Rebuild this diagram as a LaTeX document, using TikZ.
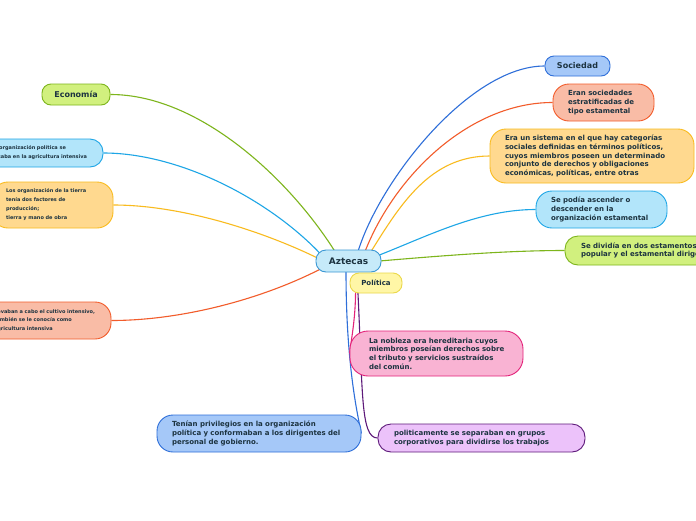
\documentclass[tikz,border=0pt]{standalone}
\usepackage{fontspec}
\setmainfont{DejaVu Sans}
\usetikzlibrary{calc}
\definecolor{txt}{HTML}{1C3340}
\definecolor{azF}{HTML}{C6EAF9}\definecolor{azD}{HTML}{3A97D4}
\definecolor{yeF}{HTML}{FFF6A6}\definecolor{yeD}{HTML}{EBD84A}
\definecolor{blF}{HTML}{A5C8F8}\definecolor{blD}{HTML}{2F6FD9}
\definecolor{rdF}{HTML}{F9BCA6}\definecolor{rdD}{HTML}{F25C2B}
\definecolor{orF}{HTML}{FFD98F}\definecolor{orD}{HTML}{F9BB1F}
\definecolor{cyF}{HTML}{B2E5FA}\definecolor{cyD}{HTML}{1EA6E6}
\definecolor{grF}{HTML}{D1F07E}\definecolor{grD}{HTML}{7DB51C}
\definecolor{pkF}{HTML}{F9B3D3}\definecolor{pkD}{HTML}{E3237A}
\definecolor{puF}{HTML}{ECC2FA}\definecolor{puD}{HTML}{5E1A7A}
\pgfdeclarelayer{bg}\pgfdeclarelayer{links}\pgfsetlayers{bg,links,main}
\tikzset{
  box/.style={draw, line width=0.9pt, text=txt, align=left, inner ysep=0pt,
    font=\fontsize{7}{8.7}\selectfont\bfseries},
  small/.style={font=\fontsize{5}{9}\selectfont\bfseries},
  link/.style={line width=1.1pt},
}
\begin{document}
\begin{tikzpicture}[x=1pt,y=-1pt]
\begin{pgfonlayer}{bg}
\fill[white] (0,0) rectangle (696,520);
\end{pgfonlayer}
\useasboundingbox (0,0) rectangle (696,520);

% central
\node[box, fill=azF, draw=azD, minimum width=65pt, minimum height=22pt, rounded corners=10pt, align=center,
  font=\fontsize{9}{10}\selectfont\bfseries] (az) at (348.5,261) {Aztecas};
\node[box, fill=yeF, draw=yeD, minimum width=52pt, minimum height=20pt, rounded corners=9pt, align=center] (pol) at (376,283) {Política};

% right side
\node[box, fill=blF, draw=blD, minimum width=65pt, minimum height=20pt, rounded corners=9pt, align=center,
  font=\fontsize{8}{9}\selectfont\bfseries] (so) at (577.5,66) {Sociedad};
\node[box, fill=rdF, draw=rdD, inner xsep=15pt, text width=71pt, minimum height=37pt, rounded corners=16pt] (er) at (603.5,102.5)
  {\mbox{Eran sociedades}\\\mbox{estratificadas de}\\\mbox{tipo estamental}};
\node[box, fill=orF, draw=orD, inner xsep=15pt, text width=174pt, minimum height=54pt, rounded corners=16pt] (si) at (592,156)
  {\mbox{Era un sistema en el que hay categorías}\\\mbox{sociales definidas en términos políticos,}\\\mbox{cuyos miembros poseen un determinado}\\\mbox{conjunto de derechos y obligaciones}\\\mbox{económicas, políticas, entre otras}};
\node[box, fill=cyF, draw=cyD, inner xsep=15pt, text width=101pt, minimum height=37pt, rounded corners=16pt] (po) at (601.5,209.5)
  {\mbox{Se podía ascender o}\\\mbox{descender en la}\\\mbox{organización estamental}};
\node[box, fill=grF, draw=grD, inner xsep=16pt, text width=168pt, minimum height=29pt, rounded corners=13pt] (di) at (665,250.5)
  {\mbox{Se dividía en dos estamentos, el}\\\mbox{popular y el estamental dirigente}};

% left side
\node[box, fill=grF, draw=grD, minimum width=68pt, minimum height=21pt, rounded corners=9pt, align=center,
  font=\fontsize{8}{9}\selectfont\bfseries] (ec) at (76,94.5) {Economía};
\node[box, small, fill=cyF, draw=cyD, inner xsep=13pt, text width=99pt, minimum height=28pt, rounded corners=13pt] (lo1) at (40.5,153)
  {\mbox{La organización política se}\\\mbox{basaba en la agricultura intensiva}};
\node[box, small, fill=orF, draw=orD, inner xsep=14pt, text width=93pt, minimum height=46pt, rounded corners=16pt] (lo2) at (52.5,205)
  {\mbox{Los organización de la tierra}\\\mbox{tenía dos factores de}\\\mbox{producción;}\\\mbox{tierra y mano de obra}};
\node[box, small, fill=rdF, draw=rdD, inner xsep=12pt, text width=105pt, minimum height=37pt, rounded corners=16pt,
  font=\fontsize{5}{8.5}\selectfont\bfseries] (ll) at (46.5,320.5)
  {\mbox{llevaban a cabo el cultivo intensivo,}\\\mbox{también se le conocía como}\\\mbox{agricultura intensiva}};

% bottom
\node[box, fill=pkF, draw=pkD, inner xsep=19pt, text width=135pt, minimum height=45pt, rounded corners=18pt] (nob) at (436.5,353.5)
  {\mbox{La nobleza era hereditaria cuyos}\\\mbox{miembros poseían derechos sobre}\\\mbox{el tributo y servicios sustraídos}\\\mbox{del común.}};
\node[box, fill=blF, draw=blD, inner xsep=15pt, text width=174pt, minimum height=37pt, rounded corners=16pt] (te) at (259,433.5)
  {\mbox{Tenían privilegios en la organización}\\\mbox{política y conformaban a los dirigentes del}\\\mbox{personal de gobierno.}};
\node[box, fill=puF, draw=puD, inner xsep=16pt, text width=175pt, minimum height=28pt, rounded corners=13pt] (pt) at (481.5,438)
  {\mbox{politicamente se separaban en grupos}\\\mbox{corporativos para dividirse los trabajos}};

% connectors
\begin{pgfonlayer}{links}
\draw[link, blD] ($(az.north)+(9.5,2)$) .. controls (380,180) and (470,66) .. (so.west);
\draw[link, rdD] ($(az.north)+(16.5,2)$) .. controls (395,175) and (470,102.5) .. (er.west);
\draw[link, orD] ($(az.north)+(22.5,2)$) .. controls (400,205) and (430,156) .. (si.west);
\draw[link, cyD] ($(az.east)+(-2,-6)$) .. controls (430,235) and (480,209.5) .. (po.west);
\draw[link, grD] ($(az.east)+(-2,0)$) .. controls (450,255) and (510,250.5) .. (di.west);
\draw[link, grD] ($(az.north)+(-13.5,2)$) .. controls (290,180) and (200,94.5) .. (ec.east);
\draw[link, cyD] ($(az.west)+(6,-6)$) .. controls (270,200) and (180,153) .. (lo1.east);
\draw[link, orD] ($(az.west)+(2,-3)$) .. controls (260,230) and (180,205) .. (lo2.east);
\draw[link, rdD] ($(az.west)+(5,8)$) .. controls (260,300) and (180,320.5) .. (ll.east);
\draw[link, blD] ($(az.south)+(-2.5,-2)$) .. controls (346,350) and (354,400) .. (te.east);
\draw[link, pkD] ($(pol.west)+(6,2)$) .. controls (356,315) and (352,335) .. (nob.west);
\draw[link, puD] ($(pol.west)+(8,2)$) .. controls (363,390) and (360,438) .. (pt.west);
\end{pgfonlayer}
\end{tikzpicture}
\end{document}
